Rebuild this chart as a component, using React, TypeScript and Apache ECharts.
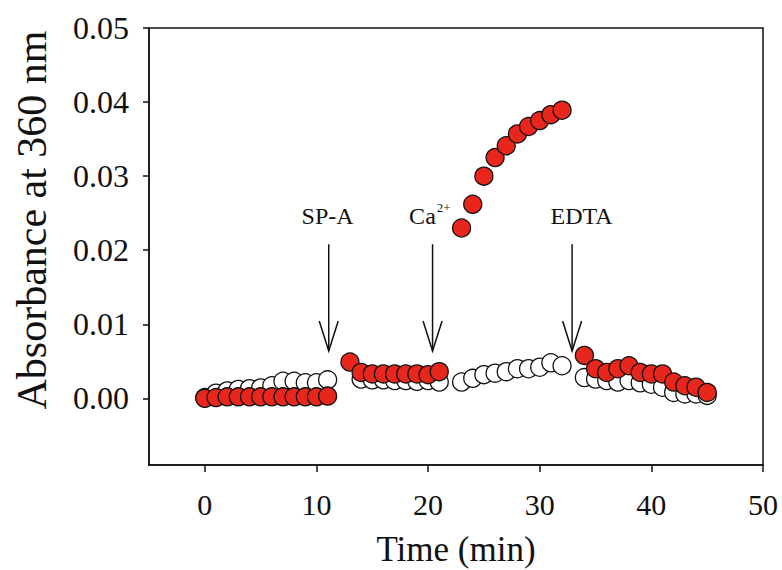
import React, { useEffect, useRef } from "react";
import * as echarts from "echarts";

// ---- data ----
const xTicks = [0, 10, 20, 30, 40, 50];
const yTicks = [0, 0.01, 0.02, 0.03, 0.04, 0.05];

const openTime = [
  0, 1, 2, 3, 4, 5, 6, 7, 8, 9, 10, 11,
  14, 15, 16, 17, 18, 19, 20, 21,
  23, 24, 25, 26, 27, 28, 29, 30, 31, 32,
  34, 35, 36, 37, 38, 39, 40, 41, 42, 43, 44, 45,
];
const openAbs = [
  0.0001, 0.0007, 0.001, 0.0012, 0.0013, 0.0014, 0.0017, 0.0023, 0.0023, 0.0021, 0.0021, 0.0025,
  0.0026, 0.0025, 0.0025, 0.0024, 0.0024, 0.0023, 0.0024, 0.0022,
  0.0022, 0.0027, 0.0032, 0.0034, 0.0036, 0.004, 0.004, 0.0042, 0.0048, 0.0044,
  0.0028, 0.0026, 0.0024, 0.0022, 0.0024, 0.0021, 0.0019, 0.0015, 0.0008, 0.0006, 0.0006, 0.0004,
];

const redTime = [
  0, 1, 2, 3, 4, 5, 6, 7, 8, 9, 10, 11,
  13, 14, 15, 16, 17, 18, 19, 20, 21,
  23, 24, 25, 26, 27, 28, 29, 30, 31, 32,
  34, 35, 36, 37, 38, 39, 40, 41, 42, 43, 44, 45,
];
const redAbs = [
  0.0, 0.0001, 0.0002, 0.0002, 0.0002, 0.0002, 0.0002, 0.0002, 0.0002, 0.0002, 0.0002, 0.0003,
  0.0049, 0.0035, 0.0033, 0.0033, 0.0033, 0.0033, 0.0033, 0.0032, 0.0036,
  0.023, 0.0262, 0.03, 0.0325, 0.0341, 0.0357, 0.0367, 0.0375, 0.0383, 0.0389,
  0.0058, 0.004, 0.0035, 0.004, 0.0044, 0.0035, 0.0033, 0.0033, 0.0022, 0.0017, 0.0015, 0.0008,
];

// arrows: x position, tail y, tip y
const arrowX = [11.1, 20.4, 32.9];
const arrowTail = [0.0208, 0.0208, 0.0208];
const arrowTip = [0.0064, 0.0064, 0.0064];
const arrowLabel = ["SP-A", "Ca", "EDTA"];
const arrowSup = ["", "2+", ""];
const labelX = [11.0, 20.69, 33.75];
const labelY = [0.0246, 0.0246, 0.0246];

const FONT = "'Liberation Serif', 'Times New Roman', serif";
const INK = "#111";

export default function App() {
  const ref = useRef<HTMLDivElement>(null);

  useEffect(() => {
    document.body.style.margin = "0";
    const chart = echarts.init(ref.current!, null, { renderer: "svg" });

    const openData = openTime.map((t, i) => [t, openAbs[i]]);
    const redData = redTime.map((t, i) => [t, redAbs[i]]);
    const arrowData = arrowX.map((x, i) => [x, arrowTail[i], arrowTip[i], labelX[i], labelY[i]]);

    chart.setOption({
      animation: false,
      backgroundColor: "#fff",
      grid: {
        left: 149,
        right: 19,
        top: 28,
        bottom: 105,
        show: true,
        borderColor: INK,
        borderWidth: 1.5,
        backgroundColor: "transparent",
      },
      xAxis: {
        type: "value",
        min: -5,
        max: 50,
        splitLine: { show: false },
        axisLine: { show: true, onZero: false, lineStyle: { color: INK, width: 1.5 } },
        axisTick: { show: true, length: 7, customValues: xTicks, lineStyle: { color: INK, width: 1.5 } },
        axisLabel: {
          customValues: xTicks,
          formatter: (v: number) => String(Math.round(v)),
          margin: 24,
          fontSize: 30,
          fontFamily: FONT,
          color: INK,
        },
      },
      yAxis: {
        type: "value",
        min: -0.009,
        max: 0.05,
        splitLine: { show: false },
        axisLine: { show: true, onZero: false, lineStyle: { color: INK, width: 1.5 } },
        axisTick: { show: true, length: 6, customValues: yTicks, lineStyle: { color: INK, width: 1.5 } },
        axisLabel: {
          customValues: yTicks,
          formatter: (v: number) => v.toFixed(2),
          margin: 20,
          fontSize: 32,
          fontFamily: FONT,
          color: INK,
        },
      },
      graphic: [
        {
          type: "text",
          x: 32,
          y: 220,
          rotation: Math.PI / 2,
          style: {
            text: "Absorbance at 360 nm",
            fontSize: 42,
            fontFamily: FONT,
            fill: INK,
            align: "center",
            verticalAlign: "middle",
          },
        },
        {
          type: "text",
          x: 456,
          y: 549,
          style: {
            text: "Time (min)",
            fontSize: 35,
            fontFamily: FONT,
            fill: INK,
            align: "center",
            verticalAlign: "middle",
          },
        },
      ],
      series: [
        {
          type: "scatter",
          data: openData,
          symbol: "circle",
          symbolSize: 18,
          itemStyle: { color: "#ffffff", borderColor: INK, borderWidth: 1.3, opacity: 1 },
          z: 2,
        },
        {
          type: "scatter",
          data: redData,
          symbol: "circle",
          symbolSize: 18,
          itemStyle: { color: "#e8261b", borderColor: INK, borderWidth: 1.3, opacity: 1 },
          z: 3,
        },
        {
          type: "custom",
          data: arrowData,
          encode: { x: [0, 3], y: [1, 2, 4] },
          z: 4,
          renderItem: (params: any, api: any) => {
            const i = params.dataIndex;
            const x = api.value(0);
            const pTail = api.coord([x, api.value(1)]);
            const pTip = api.coord([x, api.value(2)]);
            const pLab = api.coord([api.value(3), api.value(4)]);
            const sup = arrowSup[i];
            const children: any[] = [
              {
                type: "line",
                shape: { x1: pTail[0], y1: pTail[1], x2: pTip[0], y2: pTip[1] },
                style: { stroke: INK, lineWidth: 1.5 },
              },
              {
                type: "polyline",
                shape: {
                  points: [
                    [pTip[0] - 9.5, pTip[1] - 30],
                    [pTip[0], pTip[1]],
                    [pTip[0] + 9.5, pTip[1] - 30],
                  ],
                },
                style: { stroke: INK, lineWidth: 1.5, fill: "none" },
              },
              {
                type: "text",
                x: pLab[0],
                y: pLab[1],
                style: {
                  text: arrowLabel[i],
                  fontSize: 24,
                  fontFamily: FONT,
                  fill: INK,
                  align: sup ? "right" : "center",
                  verticalAlign: "middle",
                },
              },
            ];
            if (sup) {
              children.push({
                type: "text",
                x: pLab[0] + 1,
                y: pLab[1] - 9,
                style: {
                  text: sup,
                  fontSize: 13,
                  fontFamily: FONT,
                  fill: INK,
                  align: "left",
                  verticalAlign: "middle",
                },
              });
            }
            return { type: "group", children };
          },
        },
      ],
    });

    return () => chart.dispose();
  }, []);

  return <div ref={ref} style={{ width: 782, height: 570 }} />;
}
